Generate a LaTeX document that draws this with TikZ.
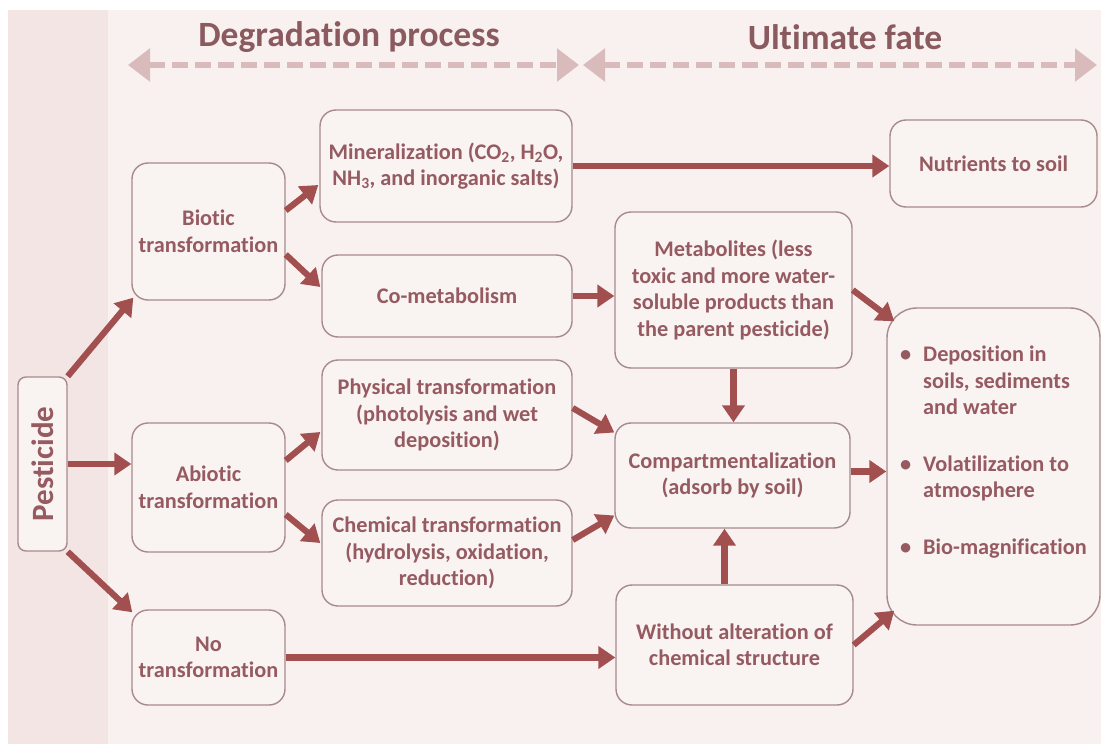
\documentclass[tikz,border=0pt]{standalone}
\usepackage{fontspec}
\setmainfont{Carlito}[Ligatures=NoCommon]
\usetikzlibrary{arrows.meta,calc}
\definecolor{txt}{HTML}{965A61}
\definecolor{htxt}{HTML}{8A5A5E}
\definecolor{bordc}{HTML}{A88A8D}
\definecolor{arrc}{HTML}{A2504F}
\definecolor{dashc}{HTML}{D9BBBB}
\definecolor{bgc}{HTML}{F8F1F0}
\definecolor{stripc}{HTML}{F3E5E4}
\definecolor{boxfill}{HTML}{F9F3F2}
\newcommand\nfont{\fontsize{22.3}{26.5}\selectfont\bfseries}
\newcommand\hfont{\fontsize{35.5}{40}\selectfont\bfseries}
\begin{document}
\begin{tikzpicture}[x=1pt,y=-1pt,
  box/.style={draw=bordc, line width=1.4pt, rounded corners=16pt, fill=boxfill,
    text=txt, font=\nfont, align=center, inner sep=0pt},
  arr/.style={draw=arrc, line width=6.2pt, -{Triangle[length=17pt,width=22pt]}},
  harr/.style={draw=dashc, line width=6pt, dash pattern=on 16pt off 7pt,
    {Triangle[length=22pt,width=32pt]}-{Triangle[length=22pt,width=32pt]}},
  head/.style={text=htxt, font=\hfont, inner sep=0pt}]
\useasboundingbox (0,0) rectangle (1101,744);
\fill[white] (0,0) rectangle (1101,744);
\fill[bgc] (8,10) rectangle (1101,744);
\fill[stripc] (8,10) rectangle (108,744);

% headers
\node[head] (hdeg) at (349,37) {Degradation process};
\node[head] (hfate) at (845,37) {Ultimate fate};
\coordinate (dl) at (128,65);
\coordinate (dm1) at (579,65);
\coordinate (dm2) at (583,65);
\coordinate (dr) at (1097,65);
\draw[harr] (dl) -- (dm1);
\draw[harr] (dm2) -- (dr);

% nodes
\node[box, minimum width=49pt, minimum height=174pt, rounded corners=8pt] (pest) at (42.5,464)
  {\rotatebox{90}{\fontsize{31}{34}\selectfont\bfseries Pesticide}};
\node[box, minimum width=153pt, minimum height=137pt] (bio) at (208.5,231.5) {Biotic\\transformation};
\node[box, minimum width=153pt, minimum height=129pt] (abio) at (208.5,487.5) {Abiotic\\transformation};
\node[box, minimum width=153pt, minimum height=95pt] (notr) at (208.5,657.5) {No\\transformation};
\node[box, minimum width=252pt, minimum height=112pt] (mine) at (446,166)
  {Mineralization (CO\textsubscript{2}, H\textsubscript{2}O,\\NH\textsubscript{3}, and inorganic salts)};
\node[box, minimum width=250pt, minimum height=82pt] (comet) at (447,296) {Co-metabolism};
\node[box, minimum width=250pt, minimum height=110pt] (phys) at (447,415)
  {Physical transformation\\(photolysis and wet\\deposition)};
\node[box, minimum width=250pt, minimum height=106pt] (chem) at (447,553)
  {Chemical transformation\\(hydrolysis, oxidation,\\reduction)};
\node[box, minimum width=207pt, minimum height=87pt] (nutr) at (993.5,163.5) {Nutrients to soil};
\node[box, minimum width=237pt, minimum height=156pt] (meta) at (733.5,290)
  {Metabolites (less\\toxic and more water-\\soluble products than\\the parent pesticide)};
\node[box, minimum width=235pt, minimum height=105pt] (comp) at (732.5,475.5)
  {Compartmentalization\\(adsorb by soil)};
\node[box, minimum width=237pt, minimum height=120pt] (wout) at (734.5,645)
  {Without alteration of\\chemical structure};
\node[box, minimum width=213pt, minimum height=317pt, rounded corners=30pt] (fate) at (993.5,466.5)
  {\begin{tabular}{@{}l@{\hspace{12pt}}l@{}}
   \textbullet & Deposition in\\
               & soils, sediments\\
               & and water\\[30pt]
   \textbullet & Volatilization to\\
               & atmosphere\\[30pt]
   \textbullet & Bio-magnification\\[28pt]
   \end{tabular}};

% connectors
\draw[arr] (pest.north east) -- ($(bio.south west)+(2,-3)$);
\draw[arr] (pest.east) -- (pest.east -| abio.west);
\draw[arr] (pest.south east) -- ($(notr.north west)+(1,3)$);
\draw[arr] ($(bio.east)+(0,-21)$) -- ($(mine.west)+(-1,19)$);
\draw[arr] ($(bio.east)+(0,23)$) -- ($(comet.west)+(-1,-9)$);
\draw[arr] ($(abio.east)+(0,-27)$) -- ($(phys.west)+(-1,17)$);
\draw[arr] ($(abio.east)+(0,27)$) -- ($(chem.west)+(-1,-10)$);
\draw[arr] (notr.east) -- (notr.east -| wout.west);
\draw[arr] (mine.east) -- (mine.east -| nutr.west);
\draw[arr] (comet.east) -- (comet.east -| meta.west);
\draw[arr] ($(phys.east)+(0,-7)$) -- ($(comp.west)+(0,-43)$);
\draw[arr] ($(chem.east)+(0,-13)$) -- ($(comp.west)+(0,40)$);
\draw[arr] (meta.south) -- (meta.south |- comp.north);
\draw[arr] ($(wout.north)+(-10,0)$) -- ($(wout.north |- comp.south)+(-10,0)$);
\draw[arr] (meta.east) -- ($(fate.north west)+(8,14)$);
\draw[arr] ($(comp.east)+(0,-4)$) -- ($(comp.east -| fate.west)+(0,-4)$);
\draw[arr] (wout.east) -- ($(fate.south west)+(8,-15)$);
\end{tikzpicture}
\end{document}
